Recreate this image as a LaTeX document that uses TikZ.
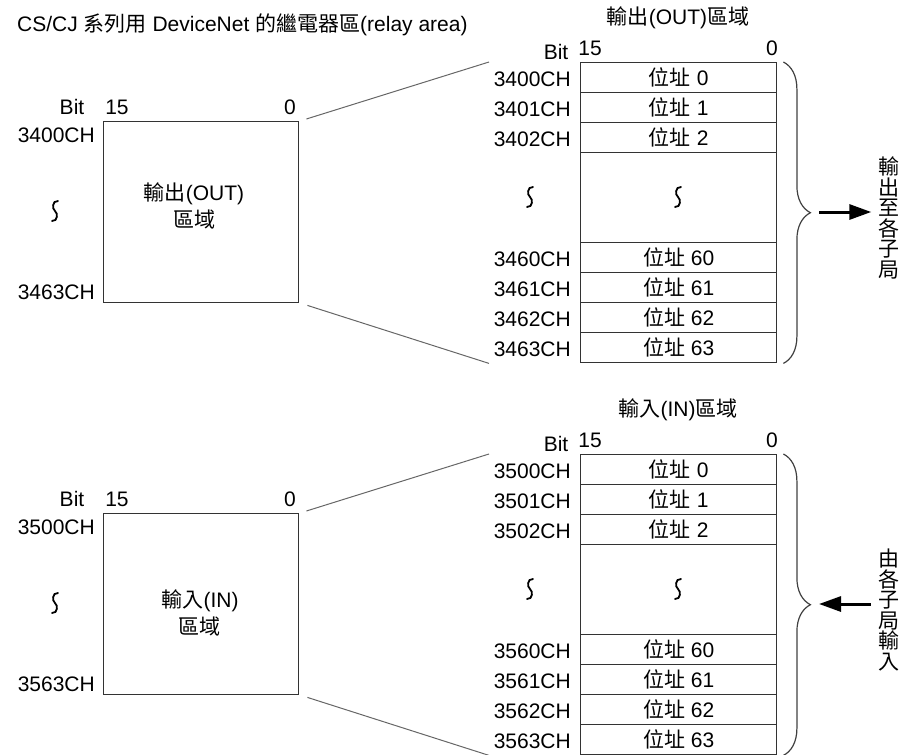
\documentclass[tikz,border=0pt]{standalone}
\usepackage{fontspec}
\setmainfont{Liberation Sans}
\newfontfamily\cjk{Noto Sans CJK TC}
\usetikzlibrary{arrows.meta,decorations.pathreplacing,calc}

% #1 prefix, #2 vertical shift, #3 CH digits, #4 box line 1, #5 position of line 1, #6 position of line 2,
% #7 header, #8 vertical text, #9 arrow style
\newcommand\relayblock[9]{%
\begin{scope}[shift={(0,#2)}]
  % left area box
  \node[area] (#1box) at (103,121) {};
  \node[lbl] (#1t1) at #5 {#4};
  \node[lbl] (#1t2) at #6 {\cjk 區域};
  \node[lbl] (#1bit) at (72,107) {Bit};
  \node[lbl] (#1hi) at (117,107) {15};
  \node[lbl] (#1lo) at (290,107) {0};
  \node[lbl,anchor=east] (#1first) at (95,135) {#3{}00CH};
  \node[lbl,anchor=east] (#1last) at (95,292) {#3{}63CH};
  \pic at (55,211) {wavy};
  % table
  \node[lbl] (#1head) at (678,18) {#7};
  \node[lbl] (#1tbit) at (556,52) {Bit};
  \node[lbl] (#1thi) at (590,48) {15};
  \node[lbl] (#1tlo) at (772,48) {0};
  \foreach \k/\d/\y in {0/00/0,1/01/30,2/02/60,60/60/180,61/61/210,62/62/240,63/63/270}{
    \node[cell] (#1r\k) at (580,{62+\y}) {{\cjk 位址} \k};
    \node[lbl,anchor=east] (#1l\k) at (571,{79+\y}) {#3\d CH};
  }
  \node[gapcell] (#1gap) at (580,152) {};
  \pic at (678,197) {wavy};
  \pic at (530,197) {wavy};
  % fan lines
  \draw[fan] ($(#1box.north east)+(7,-2)$) -- ($(#1r0.north west)+(-91,0)$);
  \draw[fan] ($(#1box.south east)+(8,2)$) -- ($(#1r63.south west)+(-91,0)$);
  % brace, arrow, vertical text
  \draw[bracestyle] ($(#1r0.north east)+(6,0)$) -- ($(#1r63.south east)+(6,0)$);
  \node[vtext] (#1v) at (889,218) {#8};
  \coordinate (#1near) at (819,212);
  \coordinate (#1far) at ($(#1v.west)+(-7,-6)$);
  \draw[#9] (#1near) -- (#1far);
\end{scope}}

\begin{document}
\begin{tikzpicture}[x=1pt,y=-1pt,font=\fontsize{21}{24}\selectfont,
  frame/.style={draw=black!80,line width=1.4pt,inner sep=0pt,anchor=north west},
  cell/.style={frame,minimum width=196pt,minimum height=30pt},
  gapcell/.style={frame,minimum width=196pt,minimum height=90pt},
  area/.style={frame,minimum width=195pt,minimum height=181pt},
  lbl/.style={inner sep=0pt},
  fan/.style={draw=black!60,line width=1pt},
  bracestyle/.style={draw=black!75,line width=1.2pt,decorate,decoration={brace,amplitude=27pt}},
  flowout/.style={line width=3pt,-{Triangle[length=22pt,width=15pt]}},
  flowin/.style={line width=3pt,{Triangle[length=22pt,width=15pt]}-},
  wavy/.pic={\draw[line width=1.8pt,line cap=round] (3,-10) .. controls (-3,-10.5) and (-3,-2) .. (0,0) .. controls (3,2) and (3,10.5) .. (-3,10);},
  vtext/.style={align=center,inner sep=0pt,font=\cjk\fontsize{21}{20.5}\selectfont}]
\useasboundingbox (0,0) rectangle (903,755);
\node[lbl,anchor=west] (title) at (17,25) {CS/CJ {\cjk 系列用} DeviceNet {\cjk 的繼電器區}(relay area)};
\relayblock{o}{0}{34}{{\cjk 輸出}(OUT)}{(194,194)}{(194,220)}{{\cjk 輸出}(OUT){\cjk 區域}}{輸\\出\\至\\各\\子\\局}{flowout}
\relayblock{i}{392}{35}{{\cjk 輸入}(IN)}{(200,209)}{(199,235)}{{\cjk 輸入}(IN){\cjk 區域}}{由\\各\\子\\局\\輸\\入}{flowin}
\end{tikzpicture}
\end{document}
